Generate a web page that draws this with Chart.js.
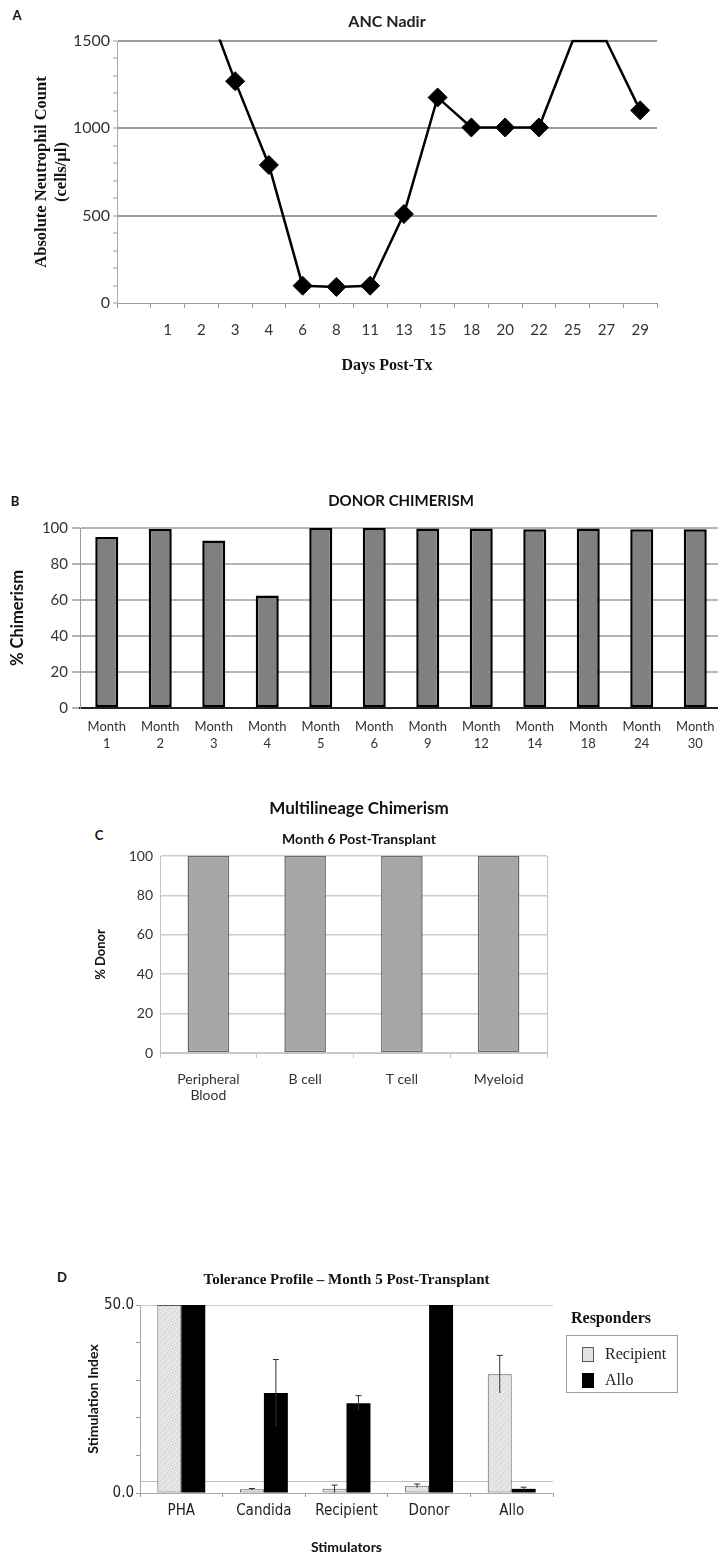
<!DOCTYPE html>
<html>
<head>
<meta charset="utf-8">
<script src="https://cdn.jsdelivr.net/npm/chart.js@4.4.1/dist/chart.umd.min.js"></script>
<style>
  html, body { margin:0; padding:0; background:#fff; }
  body { width:718px; height:1553px; overflow:hidden; position:relative; }
  canvas { position:absolute; }
  .panel { position:absolute; font:bold 13px 'Lato', sans-serif; color:#111; line-height:14px; transform:translate(-50%,-50%); }
  #legTitle { position:absolute; left:560px; width:102px; top:1308px; text-align:center; font:bold 16px 'Liberation Serif', serif; color:#111; line-height:20px; }
  #legBox { position:absolute; left:566px; top:1335px; width:110px; height:56px; border:1px solid #a0a0a0; background:#fff; }
  .legItem { position:absolute; left:15px; height:16px; font:16px 'Liberation Serif', serif; color:#222; line-height:16px; }
  .legSw { position:absolute; left:0; top:0; width:10px; height:13px; border:1px solid #444; }
  .legTx { position:absolute; left:23px; top:-1px; white-space:nowrap; }
</style>
</head>
<body>
<div class="panel" style="left:17px;top:15px;">A</div>
<div class="panel" style="left:15px;top:501px;">B</div>
<div class="panel" style="left:99px;top:835px;">C</div>
<div class="panel" style="left:62px;top:1277px;">D</div>

<canvas id="cA" width="718" height="380" style="left:0;top:0;"></canvas>
<canvas id="cB" width="730" height="280" style="left:0;top:480px;"></canvas>
<canvas id="cC" width="718" height="320" style="left:0;top:790px;"></canvas>
<canvas id="cD" width="718" height="300" style="left:0;top:1260px;"></canvas>

<div id="legTitle">Responders</div>
<div id="legBox"></div>

<script>
// ---------- DATA ----------
// Panel A: ANC nadir
const dayLabels = ['', '1', '2', '3', '4', '6', '8', '11', '13', '15', '18', '20', '22', '25', '27', '29'];
const ancValues = [null, null, 1790, 1270, 790, 99, 92, 99, 509, 1177, 1005, 1005, 1005, 1500, 1500, 1103];
const ancMajorStep = 500;

// Panel B: donor chimerism
const monthNumbers = ['1', '2', '3', '4', '5', '6', '9', '12', '14', '18', '24', '30'];
const donorChimerism = [95, 99.5, 93, 62.5, 100, 100, 99.7, 99.7, 99.3, 99.7, 99.3, 99.3];

// Panel C: multilineage chimerism
const lineages = [['Peripheral', 'Blood'], 'B cell', 'T cell', 'Myeloid'];
const donorPercent = [100, 100, 100, 100];

// Panel D: tolerance profile
const stimulators = ['PHA', 'Candida', 'Recipient', 'Donor', 'Allo'];
const responders = ['Recipient', 'Allo'];
const recipientSI = [50, 1.0, 1.1, 1.9, 31.6];
const recipientErr = [0, 0.2, 1.0, 0.5, 5.0];
const alloSI = [50, 26.6, 23.9, 50, 1.1];
const alloErr = [0, 8.9, 2.0, 0, 0.45];
const siLabelled = [0, 50];
const siThreshold = 3;

// ---------- helpers ----------
Chart.defaults.animation = false;
Chart.defaults.devicePixelRatio = 1;
Chart.defaults.plugins.legend.display = false;
Chart.defaults.plugins.tooltip.enabled = false;

const NARROW = "'Liberation Sans Narrow', 'DejaVu Sans Condensed', 'Liberation Sans', Arial, sans-serif";

function fixW(w) { return (s) => { s.width = w; }; }
function fixH(h) { return (s) => { s.height = h; }; }

function stipple() {
  const c = document.createElement('canvas');
  c.width = 6; c.height = 6;
  const g = c.getContext('2d');
  g.fillStyle = '#e6e6e6'; g.fillRect(0, 0, 6, 6);
  g.fillStyle = '#cdcdcd';
  [[0,0],[3,1],[1,3],[4,4],[5,2],[2,5]].forEach(p => g.fillRect(p[0], p[1], 1, 1));
  g.fillStyle = '#f2f2f2';
  [[2,2],[5,0],[0,4]].forEach(p => g.fillRect(p[0], p[1], 1, 1));
  return g.createPattern(c, 'repeat');
}

// ---------- Panel A ----------
new Chart(document.getElementById('cA'), {
  type: 'line',
  data: {
    labels: dayLabels,
    datasets: [{
      data: ancValues,
      borderColor: '#000',
      borderWidth: 2.5,
      tension: 0,
      pointStyle: 'rectRot',
      pointRadius: (ctx) => (ctx.raw == null || ctx.raw >= 1500) ? 0 : 9.5,
      pointBackgroundColor: '#000',
      pointBorderColor: '#000',
      pointBorderWidth: 1,
      clip: { top: 1.5, left: 0, right: 0, bottom: 0 }
    }]
  },
  options: {
    responsive: false,
    layout: { padding: { left: 0, right: 61, top: 0, bottom: 0 } },
    plugins: {
      title: {
        display: true, text: 'ANC Nadir', fullSize: false, color: '#222',
        font: { family: 'Lato', size: 16, weight: 'bold', lineHeight: 1.2 },
        padding: { top: 12.4, bottom: 9.4 }
      }
    },
    scales: {
      x: {
        type: 'category', offset: true,
        afterFit: fixH(77),
        grid: { offset: true, drawOnChartArea: false, drawTicks: true, tickLength: 5, color: '#999', tickColor: '#999' },
        border: { color: '#999', width: 1 },
        ticks: { autoSkip: false, maxRotation: 0, padding: 13, color: '#333', font: { family: 'Lato', size: 15 } },
        title: { display: true, text: 'Days Post-Tx', color: '#111',
                 font: { family: 'Liberation Serif', size: 16, weight: 'bold', lineHeight: 1.2 },
                 padding: { top: 0, bottom: 4.4 } }
      },
      y: {
        min: 0, max: 1500,
        afterFit: fixW(117),
        ticks: { stepSize: 100, autoSkip: false, padding: 3, color: '#333',
                 font: { family: 'Lato', size: 16 },
                 callback: (v) => (v % ancMajorStep === 0 ? v : '') },
        grid: {
          color: (ctx) => (ctx.tick && ctx.tick.value > 0 && ctx.tick.value % ancMajorStep === 0) ? '#9a9a9a' : 'rgba(0,0,0,0)',
          lineWidth: 2, tickLength: 4, tickColor: '#999', tickWidth: 1
        },
        border: { color: '#aaa', width: 1 },
        title: { display: true, text: ['Absolute Neutrophil Count', '(cells/µl)'], color: '#111',
                 font: { family: 'Liberation Serif', size: 16.5, weight: 'bold', lineHeight: 1.2 },
                 padding: { top: 32, bottom: 0 } }
      }
    }
  }
});

// ---------- Panel B ----------
new Chart(document.getElementById('cB'), {
  type: 'bar',
  data: {
    labels: monthNumbers.map(n => ['Month', n]),
    datasets: [{
      data: donorChimerism,
      backgroundColor: '#808080',
      borderColor: '#000',
      borderWidth: 2.5,
      borderSkipped: false,
      categoryPercentage: 1,
      barPercentage: 0.43
    }]
  },
  options: {
    responsive: false,
    layout: { padding: { left: 0, right: 8, top: 0, bottom: 0 } },
    plugins: {
      title: {
        display: true, text: 'DONOR CHIMERISM', fullSize: false, color: '#111',
        font: { family: 'Lato', size: 15, weight: 'bold', lineHeight: 1.2 },
        padding: { top: 12, bottom: 18 }
      }
    },
    scales: {
      x: {
        afterFit: fixH(52),
        grid: { display: true, drawOnChartArea: false, drawTicks: false },
        border: { color: '#222', width: 2 },
        ticks: { autoSkip: false, maxRotation: 0, padding: 10.5, color: '#333',
                 font: { family: 'Lato', size: 13, lineHeight: 1.3 } }
      },
      y: {
        min: 0, max: 100,
        afterFit: fixW(80),
        ticks: { stepSize: 10, padding: 4, color: '#333', font: { family: 'Lato', size: 15 } },
        grid: { color: (ctx) => ctx.tick && ctx.tick.value === 0 ? 'rgba(0,0,0,0)' : '#b4b4b4',
                lineWidth: 2, tickLength: 8, tickColor: '#b4b4b4' },
        border: { color: '#999', width: 1 },
        title: { display: true, text: '% Chimerism', color: '#111',
                 font: { family: 'Lato', size: 16.5, weight: 'bold', lineHeight: 1.2 },
                 padding: { top: 8, bottom: 0 } }
      }
    }
  }
});

// ---------- Panel C ----------
new Chart(document.getElementById('cC'), {
  type: 'bar',
  data: {
    labels: lineages,
    datasets: [{
      data: donorPercent,
      backgroundColor: '#a6a6a6',
      borderColor: '#6a6a6a',
      borderWidth: 1.5,
      borderSkipped: false,
      categoryPercentage: 1,
      barPercentage: 0.43
    }]
  },
  options: {
    responsive: false,
    layout: { padding: 0 },
    plugins: {
      title: {
        display: true, text: 'Multilineage Chimerism', color: '#111',
        font: { family: 'Lato', size: 17, weight: 'bold', lineHeight: 1.2 },
        padding: { top: 8.8, bottom: 0 }
      },
      subtitle: {
        display: true, text: 'Month 6 Post-Transplant', color: '#111',
        font: { family: 'Lato', size: 14, weight: 'bold', lineHeight: 1.2 },
        padding: { top: 11.4, bottom: 8.6 }
      }
    },
    scales: {
      x: {
        afterFit: fixH(57),
        grid: { offset: true, drawOnChartArea: false, drawTicks: true, tickLength: 5, color: '#c4c4c4', tickColor: '#c4c4c4' },
        border: { color: '#c4c4c4', width: 1 },
        ticks: { autoSkip: false, maxRotation: 0, padding: 12.6, color: '#333',
                 font: { family: 'Lato', size: 14, lineHeight: 1.2 } }
      },
      y: {
        min: 0, max: 100,
        afterFit: fixW(160),
        ticks: { stepSize: 10, padding: 7, color: '#333', font: { family: 'Lato', size: 14 },
                 callback: (v) => (v % 20 === 0 ? v : '') },
        grid: { color: '#cccccc', lineWidth: 1.5, drawTicks: false },
        border: { color: '#c4c4c4', width: 1 },
        title: { display: true, text: '% Donor', color: '#111',
                 font: { family: 'Lato', size: 13, weight: 'bold', lineHeight: 1.2 },
                 padding: { top: 93.2, bottom: 0 } }
      },
      yR: {
        position: 'right', min: 0, max: 100,
        afterFit: fixW(171),
        ticks: { display: false },
        grid: { drawOnChartArea: false, drawTicks: false },
        border: { color: '#c4c4c4', width: 1 }
      }
    }
  }
});

// ---------- Panel D ----------
const errorBars = {
  id: 'errorBars',
  afterDatasetsDraw(chart) {
    const ctx = chart.ctx, ys = chart.scales.y;
    chart.data.datasets.forEach((ds, di) => {
      if (!ds.errors) return;
      const meta = chart.getDatasetMeta(di);
      meta.data.forEach((bar, i) => {
        const e = ds.errors[i];
        if (!e) return;
        const v = ds.data[i];
        const yTop = ys.getPixelForValue(v + e);
        const yBot = ys.getPixelForValue(Math.max(v - e, 0));
        ctx.save();
        ctx.strokeStyle = '#333';
        ctx.lineWidth = 1;
        ctx.beginPath();
        ctx.moveTo(bar.x, yBot); ctx.lineTo(bar.x, yTop);
        ctx.moveTo(bar.x - 3, yTop); ctx.lineTo(bar.x + 3, yTop);
        ctx.stroke();
        ctx.restore();
      });
    });
  }
};

const recipFill = stipple();
const dSeries = [
  { label: responders[0], data: recipientSI, errors: recipientErr, backgroundColor: recipFill, borderColor: '#555', borderWidth: 1 },
  { label: responders[1], data: alloSI, errors: alloErr, backgroundColor: '#000', borderColor: '#000', borderWidth: 0 }
];

new Chart(document.getElementById('cD'), {
  type: 'bar',
  data: {
    labels: stimulators,
    datasets: dSeries.map(s => Object.assign({ categoryPercentage: 0.58, barPercentage: 1, borderSkipped: false }, s))
  },
  plugins: [errorBars],
  options: {
    responsive: false,
    layout: { padding: { left: 0, right: 165, top: 0, bottom: 0 } },
    plugins: {
      title: {
        display: true, text: 'Tolerance Profile – Month 5 Post-Transplant', fullSize: false, color: '#111',
        font: { family: 'Liberation Serif', size: 15, weight: 'bold', lineHeight: 1.2 },
        padding: { top: 11, bottom: 16 }
      }
    },
    scales: {
      x: {
        afterFit: fixH(67),
        grid: { offset: true, drawOnChartArea: false, drawTicks: true, tickLength: 4, color: '#999', tickColor: '#999' },
        border: { color: '#aaa', width: 1 },
        ticks: { autoSkip: false, maxRotation: 0, padding: 5.5, color: '#222',
                 font: { family: NARROW, size: 15, lineHeight: 1.2 } },
        title: { display: true, text: 'Stimulators', color: '#111',
                 font: { family: 'Lato', size: 14, weight: 'bold', lineHeight: 1.2 },
                 padding: { top: 0, bottom: 4.6 } }
      },
      y: {
        min: 0, max: 50,
        afterFit: fixW(140),
        afterBuildTicks: (s) => { s.ticks.push({ value: siThreshold }); s.ticks.sort((a, b) => a.value - b.value); },
        ticks: { stepSize: 10, autoSkip: false, padding: 2, color: '#222',
                 font: { family: NARROW, size: 15 },
                 callback: (v) => (siLabelled.includes(v) ? v.toFixed(1) : '') },
        grid: {
          color: (ctx) => {
            const v = ctx.tick && ctx.tick.value;
            if (v === siThreshold) return '#bdbdbd';
            if (v === 50) return '#cfcfcf';
            return 'rgba(0,0,0,0)';
          },
          lineWidth: 1, tickLength: 4,
          tickColor: (ctx) => (ctx.tick && ctx.tick.value === siThreshold) ? 'rgba(0,0,0,0)' : '#999'
        },
        border: { color: '#aaa', width: 1 },
        title: { display: true, text: 'Stimulation Index', color: '#111',
                 font: { family: 'Lato', size: 14, weight: 'bold', lineHeight: 1.2 },
                 padding: { top: 84.6, bottom: 0 } }
      }
    }
  }
});

// legend built from the series
const box = document.getElementById('legBox');
dSeries.forEach((s, i) => {
  const item = document.createElement('div');
  item.className = 'legItem';
  item.style.top = (11 + i * 26) + 'px';
  const sw = document.createElement('div');
  sw.className = 'legSw';
  sw.style.background = i === 0 ? '#e2e2e2' : '#000';
  sw.style.borderColor = i === 0 ? '#555' : '#000';
  const tx = document.createElement('span');
  tx.className = 'legTx';
  tx.textContent = s.label;
  item.appendChild(sw); item.appendChild(tx);
  box.appendChild(item);
});
</script>
</body>
</html>
